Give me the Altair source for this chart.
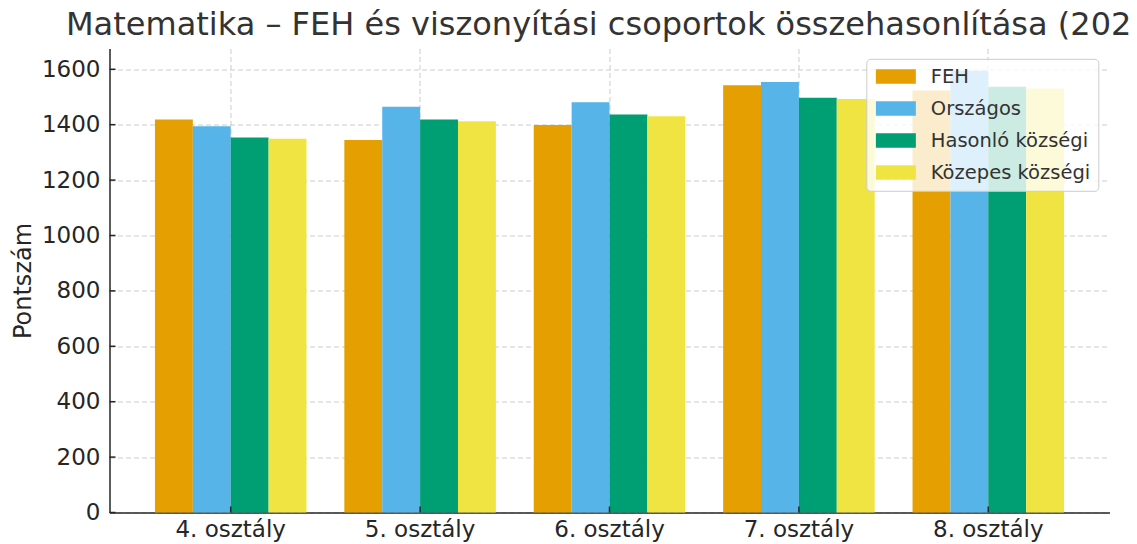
import altair as alt
import pandas as pd

categories = ["4. osztály", "5. osztály", "6. osztály", "7. osztály", "8. osztály"]
series = ["FEH", "Országos", "Hasonló községi", "Közepes községi"]
feh = [1419, 1345, 1399, 1542, 1523]
orszagos = [1394, 1465, 1481, 1554, 1595]
hasonlo = [1354, 1419, 1437, 1497, 1537]
kozepes = [1349, 1412, 1430, 1493, 1531]
colors = ["#E69F00", "#56B4E9", "#009E73", "#F0E442"]
yticks = [0, 200, 400, 600, 800, 1000, 1200, 1400, 1600]

rows = []
for s, vals in zip(series, [feh, orszagos, hasonlo, kozepes]):
    for c, v in zip(categories, vals):
        rows.append({"osztaly": c, "csoport": s, "pont": v})
df = pd.DataFrame(rows)
tick_df = pd.DataFrame({"y": yticks})
cat_df = pd.DataFrame({"osztaly": categories})

W, H = 1000, 464
FONT = "DejaVu Sans"

xscale = alt.Scale(domain=categories, paddingInner=0.2, paddingOuter=0.24, round=False)
yscale = alt.Scale(domain=[0, 1675], nice=False)

bars = alt.Chart(df).mark_bar().encode(
    x=alt.X("osztaly:N", scale=xscale, sort=categories,
            axis=alt.Axis(title=None, labelAngle=0, labelPadding=6, grid=True)),
    xOffset=alt.XOffset("csoport:N", sort=series,
                        scale=alt.Scale(domain=series, paddingInner=0, paddingOuter=0, round=False)),
    y=alt.Y("pont:Q", scale=yscale,
            axis=alt.Axis(values=yticks, format="d", title="Pontszám", titleFontSize=24,
                          titleFontWeight="normal", titleColor="#262626",
                          titleFont=FONT, titlePadding=6, labelPadding=9.5, grid=True)),
    color=alt.Color("csoport:N", sort=series,
                    scale=alt.Scale(domain=series, range=colors),
                    legend=alt.Legend(orient="none", legendX=756.8, legendY=10.3, title=None,
                                      symbolType="M-1.14,-1H4.42V1H-1.14Z", symbolSize=207,
                                      symbolStrokeWidth=0, symbolOpacity=1,
                                      labelFontSize=19.5, labelFont=FONT, labelColor="#333333",
                                      labelOffset=37, labelLimit=400, padding=8, rowPadding=11,
                                      fillColor="rgba(255,255,255,0.8)", strokeColor="#cccccc",
                                      cornerRadius=4)),
)

ytick_rules = alt.Chart(tick_df).mark_rule(color="#262626", strokeWidth=1.5).encode(
    y=alt.Y("y:Q", scale=yscale),
    x=alt.value(0), x2=alt.value(6),
)

xtick_rules = alt.Chart(cat_df).mark_rule(color="#262626", strokeWidth=1.5).encode(
    x=alt.X("osztaly:N", scale=xscale, sort=categories),
    y=alt.value(H), y2=alt.value(H - 6),
)

chart = alt.layer(bars, ytick_rules, xtick_rules).properties(
    width=W, height=H,
    autosize=alt.AutoSizeParams(type="none"),
    padding={"left": 101.5, "top": 40.5, "right": 19.5, "bottom": 35},
    title=alt.TitleParams(
        "Matematika – FEH és viszonyítási csoportok összehasonlítása (2025)",
        anchor="start", frame="group", dx=-43.5, dy=31, offset=12.5, baseline="alphabetic",
        fontSize=32, font=FONT, fontWeight="normal", color="#333333"),
).configure_view(strokeWidth=0).configure_axis(
    domainColor="#262626", domainWidth=1.5, gridColor="#cccccc", gridDash=[5, 3],
    gridWidth=1, labelFont=FONT, labelFontSize=23, labelColor="#262626",
    ticks=False, tickSize=0, zindex=1,
)

chart.save("out.html", embed_options={"renderer": "svg", "actions": False})
